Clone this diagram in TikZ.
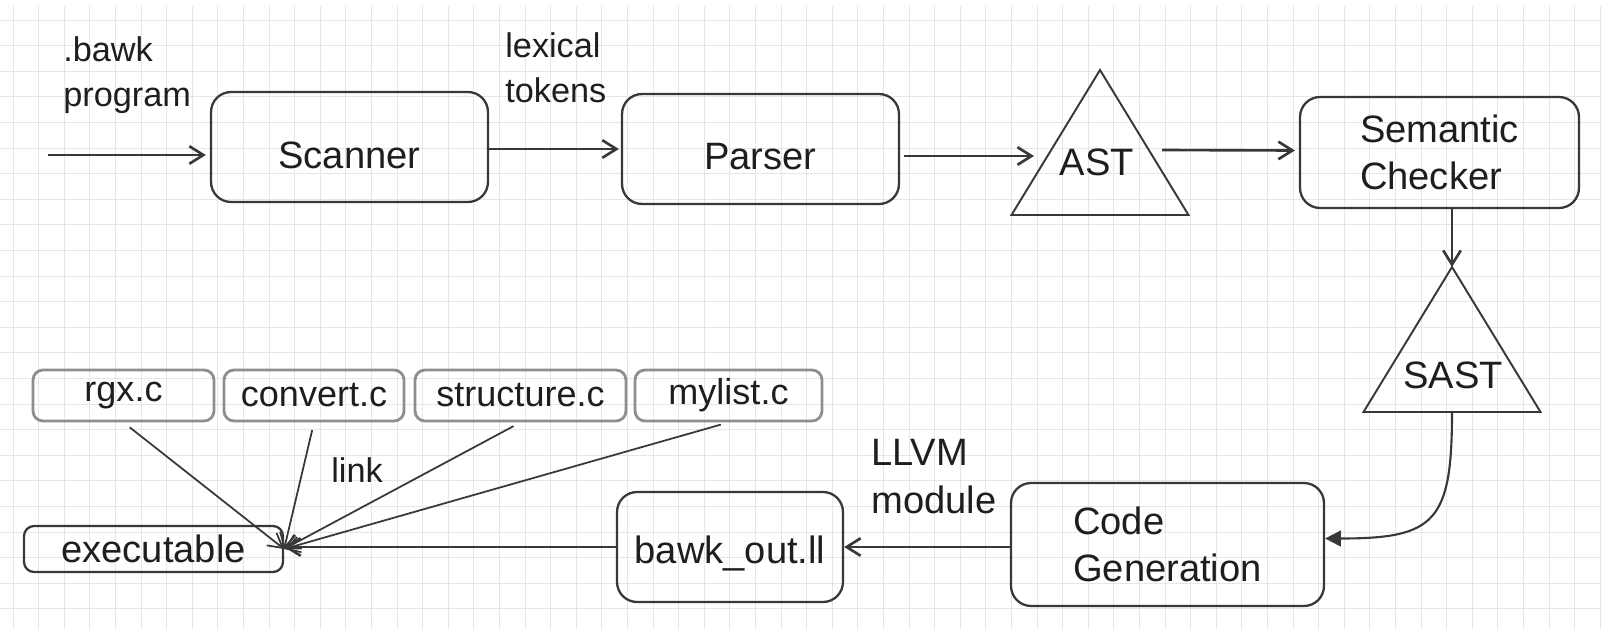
\documentclass[tikz,border=0pt]{standalone}
\usepackage{fontspec}
\setmainfont{Liberation Sans}
\usetikzlibrary{arrows.meta,shapes.geometric,calc}
\definecolor{ink}{HTML}{1E1E1E}
\definecolor{edgec}{HTML}{383838}
\definecolor{gridc}{HTML}{E6E6E6}
\definecolor{softedge}{HTML}{8E8E8E}
\begin{document}
\begin{tikzpicture}[x=0.02cm,y=-0.02cm,
  font=\fontsize{21.7}{27}\selectfont,
  gridline/.style={draw=gridc, line width=0.5pt},
  box/.style={draw=edgec, line width=1.3pt, rounded corners=0.4cm, inner sep=0pt, text=ink},
  sbox/.style={draw=softedge, line width=1.6pt, rounded corners=0.2cm, inner sep=0pt, text=ink,
    minimum height=1.02cm, font=\fontsize{20.5}{24}\selectfont},
  tri/.style={draw=edgec, line width=1.1pt, isosceles triangle, shape border rotate=90,
    isosceles triangle stretches, minimum width=3.54cm, minimum height=2.9cm,
    inner sep=0pt, outer sep=0pt, anchor=apex},
  lbl/.style={text=ink, inner sep=0pt, align=left, font=\fontsize{19.5}{26}\selectfont},
  conn/.style={draw=edgec, line width=1.5pt, -{Straight Barb[length=8pt,width=10pt]}},
  linkc/.style={draw=edgec, line width=1pt, -{Straight Barb[length=8pt,width=9pt]}, shorten <=4.5pt}
]
\useasboundingbox (0,0) rectangle (1602,629);
\fill[white] (0,0) rectangle (1602,629);
\foreach \i in {0,...,62} \draw[gridline] ({13+25.6*\i},6) -- ({13+25.6*\i},629);
\foreach \j in {0,...,23} \draw[gridline] (0,{20+25.6*\j}) -- (1602,{20+25.6*\j});

% main boxes
\node[box, minimum width=5.54cm, minimum height=2.2cm, text height=0.87cm, text depth=0cm] (scanner) at (349.5,147) {Scanner};
\node[box, minimum width=5.54cm, minimum height=2.2cm, text height=0.8cm, text depth=0cm] (parser) at (760.5,149) {Parser};
\node[box, minimum width=5.58cm, minimum height=2.22cm, align=left] (sem) at (1439.5,152.5) {Semantic\\Checker};
\node[box, minimum width=6.26cm, minimum height=2.46cm, align=left] (cg) at (1167.5,544.5) {Code\\Generation};
\node[box, minimum width=4.52cm, minimum height=2.2cm, text height=0.67cm, text depth=0cm] (bawk) at (730,547) {bawk\_out.ll};
\node[box, minimum width=5.18cm, minimum height=0.92cm, rounded corners=0.2cm] (exe) at (153.5,549) {executable};

% triangles
\node[tri] (ast) at (1100,70) {};
\node[tri] (sast) at (1452,267) {};
\node[text=ink, inner sep=0pt] (astt) at (1097,162) {AST};
\node[text=ink, inner sep=0pt] (sastt) at (1453,375) {SAST};

% library boxes
\node[sbox, minimum width=3.62cm] (rgx) at (123.5,395.5) {rgx.c};
\node[sbox, minimum width=3.6cm] (conv) at (314,395.5) {convert.c};
\node[sbox, minimum width=4.22cm] (struc) at (520.5,395.5) {structure.c};
\node[sbox, minimum width=3.74cm] (myl) at (728.5,395.5) {mylist.c};

% labels
\node[lbl, anchor=north west] (lb1) at (63,36) {.bawk\\program};
\node[lbl, anchor=north west] (lb2) at (505,32) {lexical\\tokens};
\node[lbl, anchor=north west, font=\fontsize{21.7}{27}\selectfont] (lb3) at (871,439) {LLVM\\module};
\node[lbl] (lb4) at (357,470) {link};

% connectors
\coordinate (inp) at (48,155);
\draw[conn] (inp) -- ($(scanner.west)+(-4,8)$);
\draw[conn] ($(scanner.east)+(0,2)$) -- ($(parser.west)+(-2,0)$);
\draw[conn] ($(parser.east)+(4,7)$) -- ($(ast.apex)+(-66,86)$);
\draw[conn] ($(ast.apex)+(62,80)$) -- ($(sem.west)+(-4,-2)$);
\draw[conn] (sast.apex |- sem.south) -- (sast.apex);
\draw[draw=edgec, line width=1.2pt, -{Triangle[length=9pt,width=9pt]}]
  (sast.lower side) .. controls ($(sast.lower side)+(0,110)$) and ($(cg.east)+(110,-6)$) .. ($(cg.east)+(0,-6)$);
\draw[conn] (cg.west |- bawk.east) -- (bawk.east);
\draw[conn] (bawk.west) -- (bawk.west -| exe.east);
\draw[linkc] (rgx.south) -- (exe.east);
\draw[linkc] (conv.south) -- (exe.east);
\draw[linkc] (struc.south) -- (exe.east);
\draw[linkc] (myl.south) -- (exe.east);
\end{tikzpicture}
\end{document}
